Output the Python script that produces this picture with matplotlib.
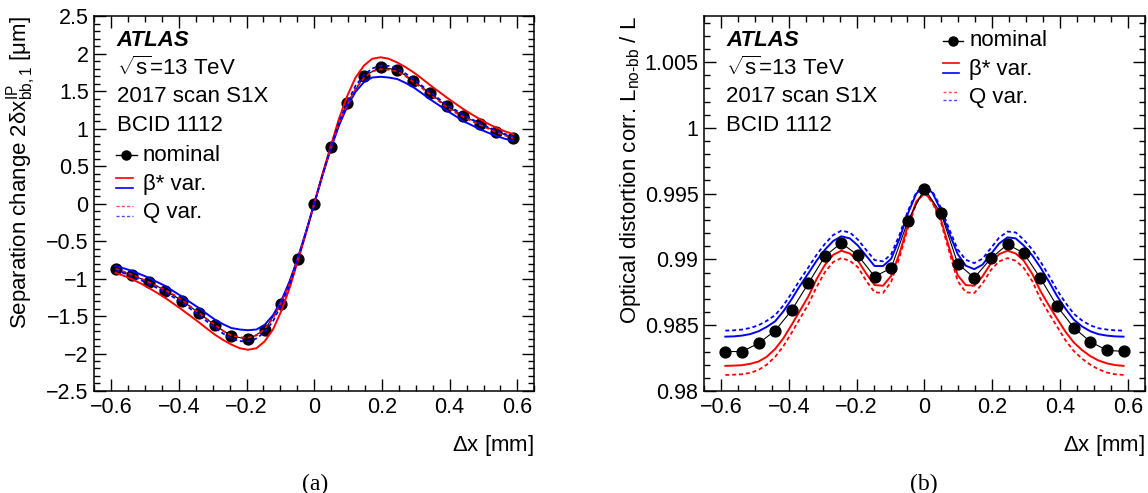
import numpy as np
import matplotlib
matplotlib.use("Agg")
import matplotlib.pyplot as plt
from matplotlib.ticker import MultipleLocator, FuncFormatter

plt.rcParams['font.family'] = ['Liberation Sans', 'DejaVu Sans']
plt.rcParams['mathtext.fontset'] = 'custom'
plt.rcParams['mathtext.rm'] = 'Liberation Sans'
plt.rcParams['mathtext.it'] = 'Liberation Sans:italic'
plt.rcParams['mathtext.bf'] = 'Liberation Sans:bold'

# scan positions [mm]
scan_x = [-0.587, -0.538, -0.489, -0.440, -0.391, -0.342, -0.293, -0.245, -0.196,
          -0.147, -0.098, -0.049, 0.0, 0.049, 0.098, 0.147, 0.196, 0.245, 0.293,
          0.342, 0.391, 0.440, 0.489, 0.538, 0.587]
curve_x = [-0.587, -0.562, -0.538, -0.513, -0.489, -0.465, -0.440, -0.416, -0.391,
           -0.367, -0.342, -0.318, -0.293, -0.269, -0.245, -0.220, -0.196, -0.171,
           -0.147, -0.122, -0.098, -0.073, -0.049, -0.024, 0.0, 0.024, 0.049, 0.073,
           0.098, 0.122, 0.147, 0.171, 0.196, 0.220, 0.245, 0.269, 0.293, 0.318,
           0.342, 0.367, 0.391, 0.416, 0.440, 0.465, 0.489, 0.513, 0.538, 0.562, 0.587]

# (a) separation change [um]
sep_nominal = [-0.875, -0.955, -1.045, -1.16, -1.295, -1.455, -1.625, -1.765, -1.81,
               -1.69, -1.335, -0.745, 0.0, 0.75, 1.34, 1.70, 1.82, 1.78, 1.64,
               1.47, 1.30, 1.17, 1.06, 0.96, 0.88]
sep_beta_up = [-0.925, -0.965, -1.01, -1.065, -1.125, -1.19, -1.26, -1.335, -1.415,
               -1.495, -1.58, -1.665, -1.75, -1.82, -1.88, -1.93, -1.95, -1.93,
               -1.84, -1.68, -1.44, -1.13, -0.77, -0.39, 0.0, 0.39, 0.77, 1.13,
               1.44, 1.68, 1.84, 1.93, 1.95, 1.93, 1.88, 1.82, 1.75, 1.665,
               1.58, 1.495, 1.415, 1.335, 1.26, 1.19, 1.125, 1.065, 1.01, 0.965, 0.925]
sep_beta_dn = [-0.835, -0.865, -0.90, -0.945, -0.99, -1.045, -1.10, -1.17, -1.24,
               -1.315, -1.39, -1.47, -1.55, -1.61, -1.66, -1.68, -1.69, -1.68,
               -1.62, -1.49, -1.30, -1.04, -0.73, -0.37, 0.0, 0.37, 0.73, 1.04,
               1.30, 1.49, 1.62, 1.68, 1.69, 1.68, 1.66, 1.61, 1.55, 1.47,
               1.39, 1.315, 1.24, 1.17, 1.10, 1.045, 0.99, 0.945, 0.90, 0.865, 0.835]
sep_q_red = [-0.87, -0.91, -0.95, -1.0, -1.05, -1.10, -1.155, -1.215, -1.285,
             -1.37, -1.455, -1.54, -1.62, -1.70, -1.76, -1.785, -1.79, -1.76,
             -1.675, -1.53, -1.325, -1.07, -0.74, -0.37, 0.0, 0.37, 0.74, 1.07,
             1.325, 1.53, 1.675, 1.76, 1.79, 1.785, 1.76, 1.70, 1.62, 1.54,
             1.455, 1.37, 1.285, 1.215, 1.155, 1.10, 1.05, 1.0, 0.95, 0.91, 0.87]
sep_q_blue = [-0.89, -0.93, -0.97, -1.02, -1.07, -1.125, -1.185, -1.25, -1.315,
              -1.40, -1.485, -1.57, -1.66, -1.735, -1.80, -1.835, -1.84, -1.80,
              -1.715, -1.57, -1.355, -1.09, -0.755, -0.38, 0.0, 0.38, 0.755, 1.09,
              1.355, 1.57, 1.715, 1.80, 1.84, 1.835, 1.80, 1.735, 1.66, 1.57,
              1.485, 1.40, 1.315, 1.25, 1.185, 1.125, 1.07, 1.02, 0.97, 0.93, 0.89]

# (b) optical distortion correction
odc_nominal = [0.98300, 0.98300, 0.98362, 0.98459, 0.98615, 0.98819, 0.99026, 0.99125,
               0.99031, 0.98870, 0.98934, 0.99291, 0.99538, 0.99350, 0.98969, 0.98860,
               0.99008, 0.99115, 0.99048, 0.98857, 0.98645, 0.98482, 0.98375, 0.98309,
               0.98301]
odc_beta_blue = [0.98413, 0.98415, 0.98421, 0.98433, 0.98454, 0.98487, 0.98530, 0.98605,
                 0.98700, 0.98800, 0.98895, 0.98990, 0.99075, 0.99140, 0.99176, 0.99160,
                 0.99105, 0.99025, 0.98950, 0.98950, 0.99005, 0.99160, 0.99347, 0.99500,
                 0.99559, 0.99505, 0.99372, 0.99200, 0.99041, 0.98952, 0.98926, 0.98960,
                 0.99041, 0.99120, 0.99168, 0.99160, 0.99105, 0.99030, 0.98939, 0.98832,
                 0.98722, 0.98625, 0.98543, 0.98490, 0.98454, 0.98432, 0.98421, 0.98415,
                 0.98413]
odc_q_blue = [0.98459, 0.98461, 0.98467, 0.98479, 0.98500, 0.98533, 0.98577, 0.98650,
              0.98745, 0.98845, 0.98940, 0.99035, 0.99120, 0.99185, 0.99219, 0.99205,
              0.99150, 0.99070, 0.98995, 0.98985, 0.99040, 0.99190, 0.99367, 0.99510,
              0.99562, 0.99515, 0.99392, 0.99230, 0.99076, 0.98997, 0.98972, 0.99005,
              0.99086, 0.99165, 0.99212, 0.99205, 0.99150, 0.99075, 0.98984, 0.98877,
              0.98767, 0.98670, 0.98588, 0.98535, 0.98499, 0.98477, 0.98467, 0.98461,
              0.98459]
odc_beta_red = [0.98191, 0.98193, 0.98196, 0.98207, 0.98224, 0.98260, 0.98320, 0.98400,
                0.98505, 0.98610, 0.98720, 0.98850, 0.98960, 0.99035, 0.99066, 0.99045,
                0.98990, 0.98890, 0.98805, 0.98800, 0.98875, 0.99050, 0.99258, 0.99440,
                0.99508, 0.99440, 0.99300, 0.99090, 0.98880, 0.98805, 0.98800, 0.98870,
                0.98970, 0.99040, 0.99066, 0.99045, 0.98990, 0.98890, 0.98760, 0.98650,
                0.98550, 0.98450, 0.98370, 0.98310, 0.98265, 0.98232, 0.98210, 0.98197,
                0.98191]
odc_q_red = [0.98122, 0.98124, 0.98127, 0.98138, 0.98160, 0.98200, 0.98260, 0.98340,
             0.98445, 0.98550, 0.98660, 0.98790, 0.98905, 0.98980, 0.99010, 0.98990,
             0.98940, 0.98835, 0.98750, 0.98745, 0.98830, 0.99020, 0.99235, 0.99430,
             0.99505, 0.99430, 0.99280, 0.99060, 0.98835, 0.98750, 0.98745, 0.98815,
             0.98920, 0.98985, 0.99010, 0.98990, 0.98935, 0.98835, 0.98700, 0.98590,
             0.98490, 0.98385, 0.98305, 0.98245, 0.98200, 0.98165, 0.98140, 0.98127,
             0.98122]

info_lines = [r"$\sqrt{\mathrm{s}}$=13 TeV", "2017 scan S1X", "BCID 1112"]

FS = 16
DASH = (2.2, 1.6)


def fmt(v, pos):
    v = round(v, 6)
    if v == 0:
        return "0"
    return ("%g" % v).replace("-", "\u2212")


def style_axes(ax):
    ax.tick_params(which='both', direction='in', top=True, right=True,
                   labelsize=15.5, width=1.0)
    ax.tick_params(which='major', length=8.5, pad=4)
    ax.tick_params(which='minor', length=4.2)
    ax.xaxis.set_major_locator(MultipleLocator(0.2))
    ax.xaxis.set_minor_locator(MultipleLocator(0.05))
    ax.xaxis.set_major_formatter(FuncFormatter(fmt))
    ax.yaxis.set_major_formatter(FuncFormatter(fmt))
    for s in ax.spines.values():
        s.set_linewidth(1.1)
    ax.set_xlim(-0.65, 0.65)
    ax.set_xlabel(r"$\Delta$x [mm]", fontsize=FS, loc='right')
    ax.xaxis.set_label_coords(1.0, -0.112)


def add_text(ax, x0):
    ax.text(x0, 0.934, "ATLAS", transform=ax.transAxes, fontsize=FS,
            fontweight='bold', fontstyle='italic', va='center')
    for i, t in enumerate(info_lines):
        ax.text(x0, 0.861 - i * 0.076, t, transform=ax.transAxes,
                fontsize=FS, va='center')


def add_legend(ax, lx0, lx1, tx, ynom, ybeta, yq):
    tr = ax.transAxes
    ax.plot([lx0, lx1], [ynom, ynom], color='k', lw=1.0, transform=tr, clip_on=False)
    ax.plot([(lx0 + lx1) / 2], [ynom], 'o', color='k', ms=6.5, transform=tr, clip_on=False)
    ax.text(tx, ynom, "nominal", transform=tr, fontsize=FS, va='center')
    lx1b = lx0 + (lx1 - lx0) * 0.82
    ax.plot([lx0, lx1b], [ybeta[0]] * 2, color='red', lw=1.2, transform=tr)
    ax.plot([lx0, lx1b], [ybeta[1]] * 2, color='blue', lw=1.2, transform=tr)
    ax.text(tx, (ybeta[0] + ybeta[1]) / 2 - 0.004, "\u03b2* var.", transform=tr,
            fontsize=FS, va='center')
    ax.plot([lx0, lx1b], [yq[0]] * 2, color='red', lw=1.0, dashes=DASH,
            alpha=0.7, transform=tr)
    ax.plot([lx0, lx1b], [yq[1]] * 2, color='blue', lw=1.0, dashes=DASH,
            alpha=0.7, transform=tr)
    ax.text(tx, (yq[0] + yq[1]) / 2 - 0.004, "Q var.", transform=tr,
            fontsize=FS, va='center')


fig = plt.figure(figsize=(11.48, 4.93), dpi=100)
ax1 = fig.add_axes([0.0821, 0.2069, 0.3833, 0.7606])
ax2 = fig.add_axes([0.6132, 0.2069, 0.3841, 0.7606])

# (a)
ax1.plot(scan_x, sep_nominal, color='k', lw=0.8, zorder=2)
ax1.plot(scan_x, sep_nominal, 'o', color='k', ms=7.8, zorder=3)
ax1.plot(curve_x, sep_beta_up, color='red', lw=1.4, zorder=4)
ax1.plot(curve_x, sep_beta_dn, color='blue', lw=1.4, zorder=4)
ax1.plot(curve_x, sep_q_red, color='red', lw=1.3, dashes=DASH, zorder=5)
ax1.plot(curve_x, sep_q_blue, color='blue', lw=1.3, dashes=DASH, zorder=5)
ax1.set_ylim(-2.5, 2.5)
ax1.yaxis.set_major_locator(MultipleLocator(0.5))
ax1.yaxis.set_minor_locator(MultipleLocator(0.1))
style_axes(ax1)
ax1.set_ylabel("Separation change 2\u03b4$\\mathrm{x}^{\\mathrm{IP}}_{\\mathrm{bb,1}}$ [\u03bcm]",
               fontsize=FS, loc='top')
ax1.yaxis.set_label_coords(-0.128, 1.0)
add_text(ax1, 0.051)
add_legend(ax1, 0.0495, 0.097, 0.11, 0.629, (0.567, 0.541), (0.493, 0.467))

# (b)
ax2.plot(curve_x, odc_beta_blue, color='blue', lw=1.4, zorder=2)
ax2.plot(curve_x, odc_beta_red, color='red', lw=1.4, zorder=2)
ax2.plot(curve_x, odc_q_blue, color='blue', lw=1.3, dashes=DASH, zorder=2)
ax2.plot(curve_x, odc_q_red, color='red', lw=1.3, dashes=DASH, zorder=2)
ax2.plot(scan_x, odc_nominal, color='k', lw=0.8, zorder=3)
ax2.plot(scan_x, odc_nominal, 'o', color='k', ms=7.8, zorder=4)
ax2.set_ylim(0.98, 1.0085)
ax2.yaxis.set_major_locator(MultipleLocator(0.005))
ax2.yaxis.set_minor_locator(MultipleLocator(0.001))
style_axes(ax2)
ax2.set_ylabel("Optical distortion corr. L$_{\\mathrm{no\u2010bb}}$ / L",
               fontsize=FS, loc='top')
ax2.yaxis.set_label_coords(-0.138, 1.0)
add_text(ax2, 0.050)
add_legend(ax2, 0.542, 0.587, 0.602, 0.934, (0.874, 0.849), (0.798, 0.776))

fig.text(315.5 / 1148, 1 - 484 / 493, "(a)", family='Liberation Serif', fontsize=17,
         ha='center', va='center')
fig.text(924.2 / 1148, 1 - 484 / 493, "(b)", family='Liberation Serif', fontsize=17,
         ha='center', va='center')

fig.savefig("out.png", dpi=100)
